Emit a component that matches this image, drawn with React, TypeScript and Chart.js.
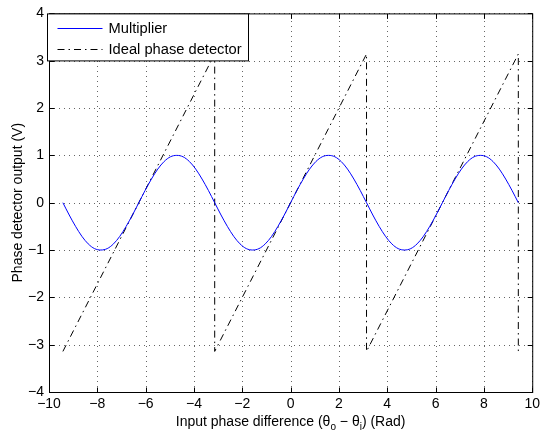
import React, { useEffect, useRef } from 'react';
import { Chart, registerables } from 'chart.js';

Chart.register(...registerables);

// Multiplier output (V) vs. input phase difference (rad)
const multiplierX = [
  -9.425, -9.163, -8.901, -8.639, -8.378, -8.116, -7.854, -7.592, -7.33, -7.069, -6.807, -6.545, -6.283,
  -6.021, -5.76, -5.498, -5.236, -4.974, -4.712, -4.451, -4.189, -3.927, -3.665, -3.403, -3.142,
  -2.88, -2.618, -2.356, -2.094, -1.833, -1.571, -1.309, -1.047, -0.785, -0.524, -0.262, 0,
  0.262, 0.524, 0.785, 1.047, 1.309, 1.571, 1.833, 2.094, 2.356, 2.618, 2.88, 3.142,
  3.403, 3.665, 3.927, 4.189, 4.451, 4.712, 4.974, 5.236, 5.498, 5.76, 6.021, 6.283,
  6.545, 6.807, 7.069, 7.33, 7.592, 7.854, 8.116, 8.378, 8.639, 8.901, 9.163, 9.425,
];
const multiplierY = [
  0, -0.26, -0.5, -0.71, -0.87, -0.97, -1, -0.97, -0.87, -0.71, -0.5, -0.26, 0,
  0.26, 0.5, 0.71, 0.87, 0.97, 1, 0.97, 0.87, 0.71, 0.5, 0.26, 0,
  -0.26, -0.5, -0.71, -0.87, -0.97, -1, -0.97, -0.87, -0.71, -0.5, -0.26, 0,
  0.26, 0.5, 0.71, 0.87, 0.97, 1, 0.97, 0.87, 0.71, 0.5, 0.26, 0,
  -0.26, -0.5, -0.71, -0.87, -0.97, -1, -0.97, -0.87, -0.71, -0.5, -0.26, 0,
  0.26, 0.5, 0.71, 0.87, 0.97, 1, 0.97, 0.87, 0.71, 0.5, 0.26, 0,
];

// Ideal phase detector (sawtooth)
const idealX = [-9.425, -3.142, -3.142, 3.142, 3.142, 9.425, 9.425];
const idealY = [-3.142, 3.142, -3.142, 3.142, -3.142, 3.142, -3.142];

const seriesLabels = ['Multiplier', 'Ideal phase detector'];
const xRange = [-10, 10];
const yRange = [-4, 4];
const xStep = 2;
const yStep = 1;
const yTitle = 'Phase detector output (V)';
const xTitleParts = ['Input phase difference (\u03b8', 'o', ' \u2212 \u03b8', 'i', ') (Rad)'];

const FONT = '"Liberation Sans", Arial, Helvetica, sans-serif';
const FS = 14;
const minus = (v: number | string) => String(v).replace('-', '\u2212');

const DASH_DOT = [7, 4, 1.5, 4];

const matlabPlugin = {
  id: 'matlabDecor',
  beforeDatasetsDraw(chart: any) {
    const { ctx, chartArea: a, scales } = chart;
    const x = scales.x;
    const y = scales.y;
    ctx.save();
    ctx.strokeStyle = 'rgba(0,0,0,0.6)';
    ctx.lineWidth = 1;
    ctx.setLineDash([1, 4]);
    x.ticks.forEach((t: any) => {
      const px = Math.round(x.getPixelForValue(t.value)) + 0.5;
      ctx.beginPath();
      ctx.moveTo(px, a.bottom);
      ctx.lineTo(px, a.top);
      ctx.stroke();
    });
    y.ticks.forEach((t: any) => {
      const py = Math.round(y.getPixelForValue(t.value)) + 0.5;
      ctx.beginPath();
      ctx.moveTo(a.left, py);
      ctx.lineTo(a.right, py);
      ctx.stroke();
    });
    ctx.restore();
  },
  afterDatasetsDraw(chart: any) {
    const { ctx, chartArea: a, scales } = chart;
    const x = scales.x;
    const y = scales.y;
    ctx.save();
    ctx.setLineDash([]);
    ctx.strokeStyle = '#000';
    ctx.lineWidth = 1;
    const L = a.left + 0.5, R = a.right + 0.5, T = a.top + 0.5, B = a.bottom + 0.5;
    ctx.strokeRect(L, T, R - L, B - T);
    const tl = 5;
    x.ticks.forEach((t: any) => {
      const px = Math.round(x.getPixelForValue(t.value)) + 0.5;
      ctx.beginPath();
      ctx.moveTo(px, B); ctx.lineTo(px, B - tl);
      ctx.moveTo(px, T); ctx.lineTo(px, T + tl);
      ctx.stroke();
    });
    y.ticks.forEach((t: any) => {
      const py = Math.round(y.getPixelForValue(t.value)) + 0.5;
      ctx.beginPath();
      ctx.moveTo(L, py); ctx.lineTo(L + tl, py);
      ctx.moveTo(R, py); ctx.lineTo(R - tl, py);
      ctx.stroke();
    });

    // Legend
    const bx = L - 2, by = T, bw = 201, bh = 47;
    ctx.fillStyle = '#fff';
    ctx.fillRect(bx, by, bw, bh);
    ctx.strokeRect(bx, by, bw, bh);
    const ds = chart.data.datasets;
    const rows = [by + 14, by + 35];
    ds.forEach((d: any, i: number) => {
      const ry = Math.round(rows[i]) + 0.5;
      ctx.save();
      ctx.strokeStyle = d.borderColor;
      ctx.lineWidth = 1;
      ctx.setLineDash(d.borderDash || []);
      ctx.beginPath();
      ctx.moveTo(bx + 10, ry);
      ctx.lineTo(bx + 55, ry);
      ctx.stroke();
      ctx.restore();
      ctx.fillStyle = '#000';
      ctx.font = `14.7px ${FONT}`;
      ctx.textBaseline = 'middle';
      ctx.textAlign = 'left';
      ctx.fillText(d.label, bx + 61, ry);
    });

    // X axis title with subscripts
    const cx = (a.left + a.right) / 2;
    const ty = 421;
    const big = `${FS}px ${FONT}`;
    const small = `${Math.round(FS * 0.7)}px ${FONT}`;
    const widths = xTitleParts.map((p, i) => {
      ctx.font = i % 2 === 1 ? small : big;
      return ctx.measureText(p).width;
    });
    const total = widths.reduce((s, w) => s + w, 0);
    let xx = cx - total / 2;
    ctx.textBaseline = 'alphabetic';
    ctx.textAlign = 'left';
    xTitleParts.forEach((p, i) => {
      const sub = i % 2 === 1;
      ctx.font = sub ? small : big;
      ctx.fillText(p, xx, sub ? ty + 9 : ty + 5);
      xx += widths[i];
    });
    ctx.restore();
  },
};

export default function App() {
  const ref = useRef<HTMLCanvasElement>(null);
  useEffect(() => {
    if (!ref.current) return;
    const chart = new Chart(ref.current, {
      type: 'line',
      data: {
        datasets: [
          {
            label: seriesLabels[0],
            data: multiplierX.map((x, i) => ({ x, y: multiplierY[i] })),
            borderColor: '#0000ff',
            borderWidth: 1,
            pointRadius: 0,
            cubicInterpolationMode: 'monotone',
            fill: false,
          },
          {
            label: seriesLabels[1],
            data: idealX.map((x, i) => ({ x, y: idealY[i] })),
            borderColor: '#000000',
            borderWidth: 1,
            borderDash: DASH_DOT,
            pointRadius: 0,
            tension: 0,
            fill: false,
          },
        ],
      },
      options: {
        animation: false,
        responsive: false,
        devicePixelRatio: 1,
        layout: { padding: { left: 0, top: 6, right: 8, bottom: 0 } },
        plugins: { legend: { display: false }, tooltip: { enabled: false } },
        scales: {
          x: {
            type: 'linear',
            min: xRange[0],
            max: xRange[1],
            afterFit: (s: any) => { s.height = 44; },
            grid: { display: false, drawTicks: false },
            border: { display: false },
            ticks: {
              stepSize: xStep,
              autoSkip: false,
              maxRotation: 0,
              padding: 4,
              color: '#000',
              font: { family: FONT, size: FS },
              callback: (v: any) => minus(v),
            },
          },
          y: {
            type: 'linear',
            min: yRange[0],
            max: yRange[1],
            afterFit: (s: any) => { s.width = 49; },
            grid: { display: false, drawTicks: false },
            border: { display: false },
            title: {
              display: true,
              text: yTitle,
              color: '#000',
              font: { family: FONT, size: FS },
              padding: { top: 10, bottom: 0 },
            },
            ticks: {
              stepSize: yStep,
              autoSkip: false,
              padding: 5,
              color: '#000',
              font: { family: FONT, size: FS },
              callback: (v: any) => minus(v),
            },
          },
        },
      },
      plugins: [matlabPlugin],
    } as any);
    return () => chart.destroy();
  }, []);
  return (
    <div style={{ position: 'fixed', left: 0, top: 0, width: 544, height: 436, background: '#fff' }}>
      <canvas ref={ref} width={544} height={436} style={{ display: 'block' }} />
    </div>
  );
}
